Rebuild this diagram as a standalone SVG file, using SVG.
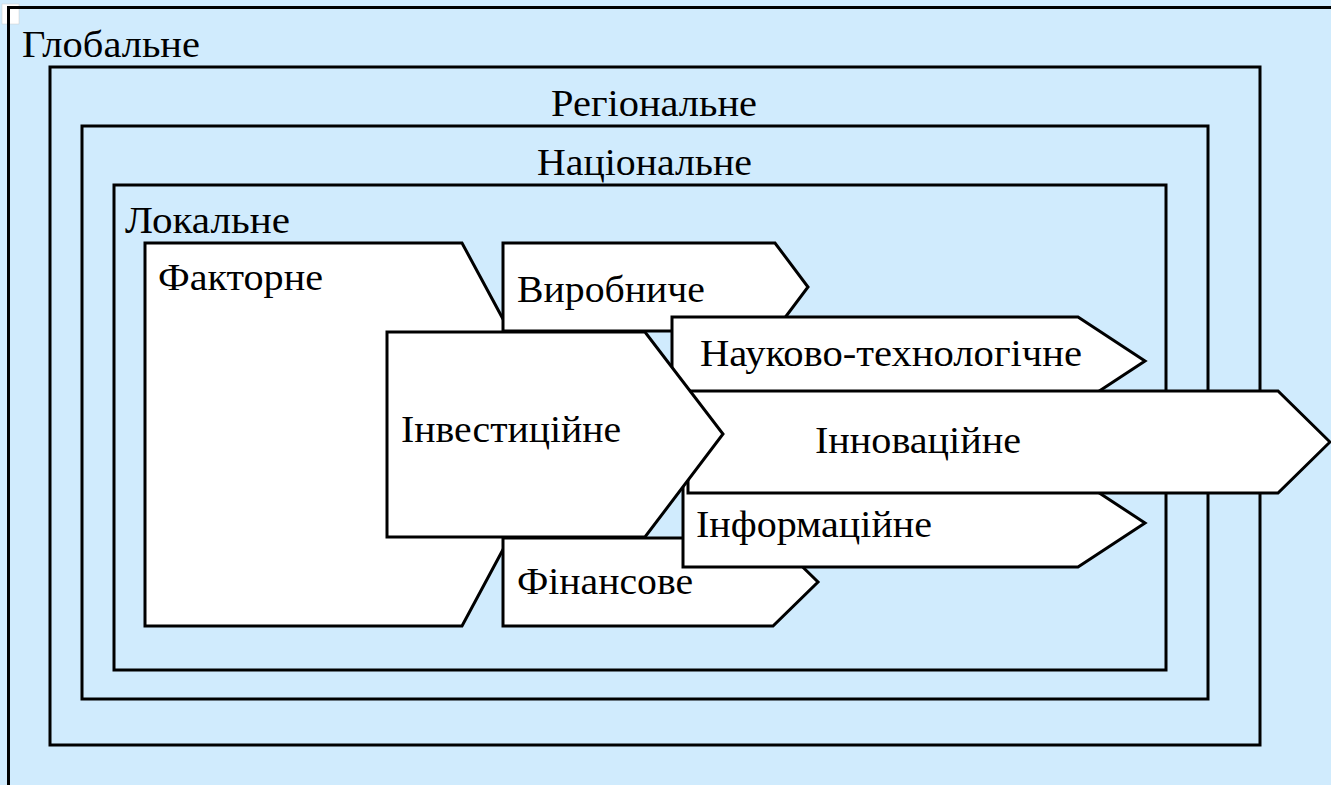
<svg xmlns="http://www.w3.org/2000/svg" width="1331" height="785" viewBox="0 0 1331 785">
<style>
.frame{fill:none;stroke:#000;stroke-width:3}
.shape{fill:#fff;stroke:#000;stroke-width:3;stroke-linejoin:miter}
.lbl{font-family:'Times New Roman',Tinos,'Liberation Serif','Noto Serif','DejaVu Serif',serif;font-size:37px;fill:#000}
</style>
<rect x="0" y="0" width="1331" height="785" fill="#D0EBFD"/>
<rect x="2" y="4" width="17" height="20" fill="#fff" stroke="#ccc" stroke-width="0.5"/>
<g id="global">
<rect class="frame" x="8.5" y="7.5" width="1400" height="900"/>
<text class="lbl" x="22" y="57" textLength="178" lengthAdjust="spacingAndGlyphs">Глобальне</text>
</g>
<g id="regional">
<rect class="frame" x="50" y="67" width="1210" height="678"/>
<text class="lbl" x="551" y="116" textLength="206" lengthAdjust="spacingAndGlyphs">Регіональне</text>
</g>
<g id="national">
<rect class="frame" x="82" y="126" width="1126" height="573"/>
<text class="lbl" x="537" y="175" textLength="215" lengthAdjust="spacingAndGlyphs">Національне</text>
</g>
<g id="local">
<rect class="frame" x="114" y="185" width="1052" height="485"/>
<text class="lbl" x="125" y="233" textLength="165" lengthAdjust="spacingAndGlyphs">Локальне</text>
</g>
<g id="factorne">
<polygon class="shape" points="145,243 462,243 565,434 462,626 145,626"/>
<text class="lbl" x="158" y="290" textLength="165" lengthAdjust="spacingAndGlyphs">Факторне</text>
</g>
<g id="vyrobnyche">
<polygon class="shape" points="503,243 775,243 808,287 775,331 503,331"/>
<text class="lbl" x="517" y="302" textLength="188" lengthAdjust="spacingAndGlyphs">Виробниче</text>
</g>
<g id="finansove">
<polygon class="shape" points="503,538 773,538 818,582 773,626 503,626"/>
<text class="lbl" x="517" y="594" textLength="176" lengthAdjust="spacingAndGlyphs">Фінансове</text>
</g>
<g id="naukovo">
<polygon class="shape" points="672,317 1078,317 1145,361 1078,405 672,405"/>
<text class="lbl" x="700" y="366" textLength="382" lengthAdjust="spacingAndGlyphs">Науково-технологічне</text>
</g>
<g id="informatsiine">
<polygon class="shape" points="683,479 1078,479 1145,523 1078,567 683,567"/>
<text class="lbl" x="696" y="537" textLength="236" lengthAdjust="spacingAndGlyphs">Інформаційне</text>
</g>
<g id="innovatsiine">
<polygon class="shape" points="688,391 1278,391 1330,442 1278,493 688,493"/>
<text class="lbl" x="815" y="453" textLength="206" lengthAdjust="spacingAndGlyphs">Інноваційне</text>
</g>
<g id="investytsiine">
<polygon class="shape" points="387,332 645,332 723,434 645,537 387,537"/>
<text class="lbl" x="401" y="442" textLength="220" lengthAdjust="spacingAndGlyphs">Інвестиційне</text>
</g>
<g id="connectors"></g>
</svg>
